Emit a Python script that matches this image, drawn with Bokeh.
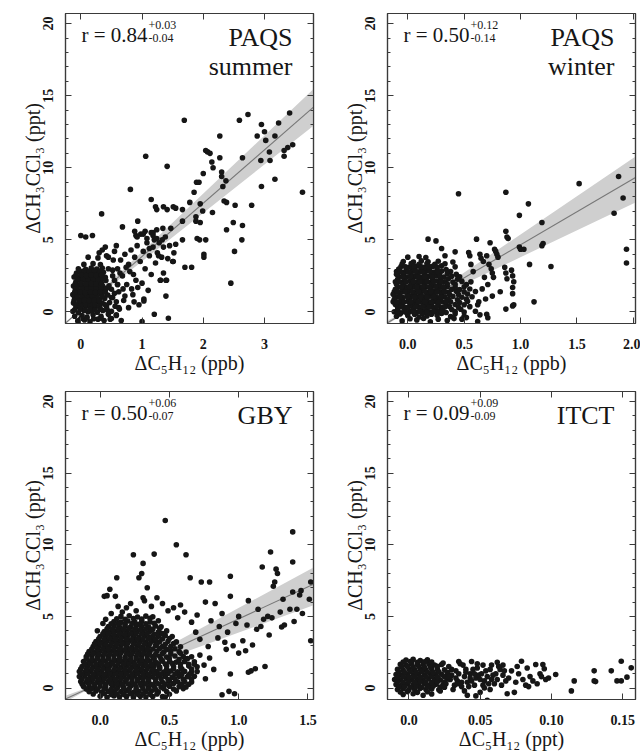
from bokeh.plotting import figure
from bokeh.models import Range1d, LinearAxis, FixedTicker, Label, CustomLabelingPolicy
from bokeh.layouts import gridplot
from bokeh.embed import file_html
from bokeh.resources import INLINE

FONT = "'Liberation Serif', 'DejaVu Serif', serif"

# ---------------- data ----------------
y_ticks = [0, 5, 10, 15, 20]
y_minor = list(range(0, 21))
y_label = "ΔCH₃CCl₃ (ppt)"

# Panel 1: PAQS summer
summer_x = [
    -0.05, 0.06, 0.15, 0.28, 0.38, 0.50,
    -0.10, 0.02, 0.10, 0.20, 0.33, 0.45, 0.58,
    -0.13, -0.04, 0.05, 0.12, 0.18, 0.27, 0.36, 0.50,
    -0.08, 0.00, 0.08, 0.16, 0.23, 0.31, 0.42, 0.62,
    -0.12, -0.03, 0.04, 0.11, 0.19, 0.26, 0.35, 0.47, 0.58,
    -0.10, -0.01, 0.07, 0.14, 0.22, 0.30, 0.39, 0.52,
    -0.13, -0.05, 0.03, 0.10, 0.17, 0.25, 0.33, 0.44, 0.55,
    -0.09, 0.00, 0.08, 0.15, 0.21, 0.29, 0.38, 0.50,
    -0.12, -0.04, 0.05, 0.12, 0.20, 0.27, 0.36, 0.46, 0.60,
    -0.08, 0.01, 0.09, 0.16, 0.24, 0.32, 0.41,
    -0.11, -0.02, 0.06, 0.13, 0.21, 0.30, 0.40, 0.52,
    -0.07, 0.03, 0.11, 0.19, 0.28, 0.37,
    -0.04, 0.08, 0.17, 0.26, 0.35, 0.45,
    0.05, 0.20, 0.32, 0.12, 0.28, 0.30, 0.55,
    -0.08, 0.00, 0.08, 0.15, 0.23, 0.31, 0.40,
    -0.06, 0.02, 0.10, 0.18, 0.26, 0.35,
    -0.07, 0.02, 0.10, 0.17, 0.25, 0.33, 0.42,
    -0.05, 0.04, 0.12, 0.20, 0.28, 0.36,
    -0.10, -0.01, 0.07, 0.15, 0.23, 0.32, 0.43,
    -0.02, 0.06, 0.14, 0.22, 0.31,
    0.00, 0.10, 0.21, 0.33,
    -0.11, -0.02, 0.06, 0.14, 0.22, 0.30,
    -0.10, -0.01, 0.07, 0.16, 0.24, 0.32, 0.40,
    -0.09, 0.00, 0.08, 0.17, 0.25, 0.34,
    -0.08, 0.01, 0.09, 0.17, 0.25, 0.34,
    0.55, 0.60, 0.62, 0.65, 0.68, 0.70, 0.72, 0.75, 0.78, 0.80,
    0.82, 0.85, 0.88, 0.90, 0.92, 0.95, 0.97, 1.00, 1.02, 1.05,
    1.08, 1.10, 1.12, 1.15, 1.18, 1.20, 1.22, 1.25, 1.28, 1.30,
    1.32, 1.35, 1.40, 1.42, 1.45, 1.50, 1.52, 1.55, 0.50, 0.53,
    0.58, 0.63, 0.45, 0.48, 0.66, 0.35, 0.40, 0.42, 0.58, 0.98,
    1.05, 0.90, 1.15,
    0.72, 0.78, 0.86, 0.93, 1.03, 1.12, 1.27, 1.38, 0.56, 0.64,
    0.74, 0.83, 0.52, 0.60, 0.69, 0.87, 1.18, 1.24, 1.33, 1.47,
    1.69, 2.59, 2.73, 3.41, 3.23, 2.95, 2.27, 2.88, 3.17, 3.00,
    3.02, 3.46, 3.38, 3.32, 3.32, 1.06, 1.41, 2.04, 2.07, 2.11,
    2.14, 2.16, 2.27, 2.64, 2.00, 2.30, 2.30, 2.37, 3.08, 3.09,
    2.94, 2.95, 3.17, 3.62, 1.89, 1.93, 2.32, 0.81, 1.85, 1.78,
    1.95, 2.34, 2.38, 2.52, 2.79, 1.15, 1.22, 1.24, 1.35, 1.41,
    1.51, 1.55, 1.66, 1.99, 2.15, 1.88, 1.88, 1.95, 1.66, 2.49,
    2.64, 2.38, 0.34, 0.68, 0.93, 0.88, 0.92, 1.08, 1.02, 1.18,
    1.24, 1.34, 1.66, 1.90, 1.94, 2.04, 2.63, 2.51, 2.01, 2.01,
    1.70, 1.81, 2.45, 0.00, 0.08, 0.19, 1.51, 1.35, 1.39, 1.30,
    1.39, 1.03, 1.20, 1.43, 1.00,
]
summer_y = [
    -0.62, -0.55, -0.68, -0.50, -0.60, -0.45,
    -0.30, -0.25, -0.35, -0.20, -0.30, -0.15, -0.25,
    0.05, -0.05, 0.10, 0.00, 0.08, -0.02, 0.10, 0.05,
    0.35, 0.30, 0.40, 0.28, 0.36, 0.30, 0.38, 0.30,
    0.62, 0.68, 0.58, 0.66, 0.60, 0.70, 0.62, 0.65, 0.70,
    0.95, 0.88, 0.98, 0.90, 0.96, 0.88, 0.94, 1.00,
    1.20, 1.26, 1.18, 1.25, 1.20, 1.28, 1.22, 1.18, 1.30,
    1.52, 1.48, 1.55, 1.50, 1.45, 1.55, 1.50, 1.58,
    1.80, 1.85, 1.78, 1.84, 1.80, 1.86, 1.78, 1.82, 1.90,
    2.10, 2.15, 2.08, 2.14, 2.10, 2.12, 2.18,
    2.42, 2.38, 2.45, 2.40, 2.36, 2.44, 2.40, 2.50,
    2.70, 2.74, 2.68, 2.72, 2.66, 2.75,
    3.00, 2.96, 3.04, 2.98, 3.05, 3.00,
    3.30, 3.35, 3.28, 3.80, 3.75, 4.10, 4.20,
    0.50, 0.47, 0.52, 0.48, 0.51, 0.46, 0.50,
    1.05, 1.08, 1.03, 1.07, 1.04, 1.09,
    1.65, 1.68, 1.63, 1.67, 1.62, 1.66, 1.64,
    2.25, 2.28, 2.23, 2.27, 2.24, 2.29,
    0.15, 0.18, 0.13, 0.17, 0.14, 0.19, 0.16,
    2.85, 2.88, 2.83, 2.87, 2.84,
    -0.45, -0.42, -0.47, -0.44,
    0.80, 0.78, 0.82, 0.79, 0.81, 0.77,
    1.36, 1.38, 1.34, 1.37, 1.35, 1.39, 1.36,
    1.95, 1.98, 1.93, 1.97, 1.94, 1.96,
    2.55, 2.58, 2.53, 2.57, 2.54, 2.56,
    2.2, 3.0, 1.4, 3.6, 2.5, 0.8, 4.0, 1.9, 3.3, 2.8,
    4.3, 1.2, 3.8, 2.2, 4.6, 0.5, 3.5, 2.0, 4.2, 3.0,
    4.8, 1.5, 3.9, 2.6, 4.5, 5.0, 3.4, 4.1, 4.8, 2.2,
    3.8, 4.5, 2.2, 3.7, 4.6, 3.5, 4.1, 4.7, 1.0, 3.6,
    -0.2, 0.2, 3.8, -0.5, -0.6, 4.3, 4.5, 3.9, 4.6, 5.4,
    5.6, 5.3, 5.5,
    1.1, 0.3, 2.6, 1.7, 0.9, 4.4, 3.9, 5.2, 0.4, 2.7,
    3.1, 1.6, 2.9, 1.9, 1.6, 0.7, 5.3, 5.1, 5.0, 5.8,
    13.3, 13.3, 13.7, 13.8, 13.1, 13.0, 12.2, 12.2, 12.2, 12.5,
    11.9, 11.6, 11.4, 11.2, 10.8, 10.8, 10.1, 11.2, 11.1, 11.0,
    10.4, 10.0, 10.7, 10.7, 9.6, 9.7, 9.4, 9.1, 11.1, 10.5,
    10.5, 8.7, 9.2, 8.3, 9.0, 9.0, 8.7, 8.5, 8.3, 7.6,
    7.5, 7.7, 7.6, 7.4, 7.4, 7.8, 7.3, 7.1, 7.3, 7.1,
    7.3, 7.2, 7.1, 7.0, 6.9, 6.6, 6.3, 6.2, 6.3, 6.2,
    6.0, 5.7, 6.8, 5.9, 6.3, 5.6, 5.2, 5.1, 5.4, 5.5,
    5.7, 5.8, 5.0, 5.1, 5.0, 5.0, 5.0, 4.2, 3.8, 4.0,
    3.1, 3.1, 2.0, 5.3, 5.2, 5.3, 3.5, 2.7, 2.2, 2.2,
    1.1, 0.76, -0.16, -0.44, -0.67,
]

# Panel 2: PAQS winter
winter_x = [
    -0.05, 0.08, 0.20, 0.35, 0.48, 0.62,
    -0.10, 0.00, 0.10, 0.17, 0.26, 0.38, 0.50,
    -0.12, -0.06, 0.02, 0.08, 0.14, 0.20, 0.27, 0.34, 0.42, 0.50, 0.60,
    -0.09, -0.03, 0.04, 0.10, 0.16, 0.22, 0.30, 0.37, 0.45, 0.55,
    -0.13, -0.07, 0.00, 0.06, 0.12, 0.18, 0.24, 0.31, 0.38, 0.46, 0.53, 0.63,
    -0.10, -0.04, 0.03, 0.09, 0.14, 0.20, 0.26, 0.33, 0.40, 0.48, 0.57,
    -0.12, -0.06, 0.01, 0.07, 0.12, 0.18, 0.23, 0.29, 0.36, 0.43, 0.50, 0.60,
    -0.09, -0.02, 0.05, 0.11, 0.16, 0.22, 0.28, 0.35, 0.42, 0.50,
    -0.11, -0.05, 0.02, 0.08, 0.14, 0.20, 0.26, 0.33, 0.40, 0.48, 0.56,
    -0.08, -0.01, 0.06, 0.12, 0.18, 0.25, 0.32, 0.39, 0.46,
    -0.10, -0.03, 0.04, 0.10, 0.16, 0.23, 0.30, 0.38,
    -0.06, 0.02, 0.09, 0.15, 0.22, 0.30, 0.42,
    -0.04, 0.05, 0.12, 0.18, 0.27, 0.40,
    0.00, 0.10, 0.16, 0.33,
    -0.09, -0.03, 0.05, 0.11, 0.17, 0.24, 0.31, 0.39, 0.47,
    -0.11, -0.05, 0.02, 0.08, 0.15, 0.21, 0.27, 0.34, 0.42, 0.50,
    -0.12, -0.06, 0.01, 0.07, 0.12, 0.17, 0.23, 0.29, 0.36, 0.44, 0.52,
    -0.13, -0.07, 0.00, 0.06, 0.11, 0.17, 0.23, 0.30, 0.37, 0.45, 0.53,
    -0.11, -0.05, 0.02, 0.08, 0.14, 0.20, 0.26, 0.32, 0.39, 0.46, 0.55,
    -0.10, -0.04, 0.03, 0.09, 0.15, 0.21, 0.28, 0.35, 0.42, 0.52,
    -0.09, -0.03, 0.04, 0.10, 0.16, 0.22, 0.29, 0.36, 0.44,
    -0.10, -0.04, 0.03, 0.09, 0.15, 0.21, 0.28, 0.35, 0.43,
    -0.08, -0.01, 0.06, 0.12, 0.19, 0.26, 0.34,
    -0.05, 0.03, 0.10, 0.17, 0.24, 0.33,
    -0.07, 0.00, 0.06, 0.13, 0.21, 0.30, 0.42,
    0.02, 0.14, 0.27, 0.41,
    -0.09, -0.02, 0.05, 0.11, 0.17, 0.23, 0.30,
    -0.06, 0.00, 0.07, 0.13, 0.19, 0.26, 0.33,
    -0.10, -0.035, 0.03, 0.09, 0.15, 0.21, 0.27, 0.34,
    -0.07, 0.00, 0.06, 0.115, 0.17, 0.23, 0.295,
    -0.09, -0.025, 0.04, 0.095, 0.15, 0.205, 0.26, 0.325,
    -0.055, 0.015, 0.08, 0.135, 0.19, 0.25, 0.315,
    -0.08, -0.015, 0.05, 0.11, 0.17, 0.23, 0.295,
    -0.045, 0.025, 0.09, 0.15, 0.215, 0.285,
    -0.065, 0.005, 0.07, 0.13, 0.195, 0.265,
    -0.02, 0.055, 0.12, 0.185, 0.26,
    0.45, 0.87, 1.07, 0.99, 1.19, 0.87, 0.88, 0.89, 0.99, 1.00,
    1.03, 1.19, 1.20, 1.08, 1.27, 1.12, 1.52, 1.87, 1.91, 1.83,
    1.94, 1.94, 0.87, 0.93, 0.94, 0.18, 0.25, 0.30, 0.42, 0.61,
    0.73, 0.54, 0.55, 0.64, 0.65, 0.67, 0.77, 0.78, 0.79, 0.80,
    0.72, 0.74, 0.75, 0.76, 0.86, 0.87, 0.88, 0.92, 0.93, 0.94,
    0.93, 0.93, 0.70, 0.71, 0.52, 0.66, 0.69, 0.58, 0.71, 0.82,
    0.64, 0.68, 0.56, 0.75, 0.62, 0.70,
]
winter_y = [
    -0.62, -0.55, -0.68, -0.60, -0.50, -0.66,
    -0.30, -0.25, -0.35, -0.28, -0.22, -0.32, -0.30,
    0.02, -0.05, 0.05, -0.02, 0.06, 0.00, 0.04, -0.04, 0.03, 0.00, 0.05,
    0.36, 0.30, 0.38, 0.32, 0.40, 0.34, 0.30, 0.38, 0.33, 0.37,
    0.70, 0.66, 0.74, 0.68, 0.72, 0.65, 0.73, 0.69, 0.70, 0.66, 0.74, 0.70,
    1.05, 1.00, 1.08, 1.02, 1.06, 1.10, 1.00, 1.05, 1.08, 1.02, 1.06,
    1.40, 1.36, 1.44, 1.38, 1.42, 1.35, 1.45, 1.40, 1.37, 1.43, 1.39, 1.42,
    1.75, 1.72, 1.78, 1.70, 1.76, 1.80, 1.73, 1.77, 1.72, 1.75,
    2.10, 2.06, 2.14, 2.08, 2.12, 2.05, 2.15, 2.10, 2.07, 2.12, 2.09,
    2.45, 2.42, 2.48, 2.40, 2.46, 2.50, 2.43, 2.47, 2.44,
    2.80, 2.76, 2.84, 2.78, 2.82, 2.75, 2.83, 2.80,
    3.15, 3.12, 3.18, 3.10, 3.16, 3.20, 3.13,
    3.50, 3.46, 3.54, 3.48, 3.52, 3.47,
    3.80, 3.85, 3.78, 3.90,
    0.16, 0.20, 0.15, 0.22, 0.18, 0.14, 0.21, 0.17, 0.19,
    0.52, 0.55, 0.50, 0.56, 0.51, 0.54, 0.49, 0.55, 0.52, 0.50,
    0.88, 0.85, 0.90, 0.86, 0.91, 0.87, 0.84, 0.90, 0.88, 0.85, 0.89,
    1.22, 1.25, 1.20, 1.26, 1.21, 1.24, 1.19, 1.25, 1.22, 1.20, 1.24,
    1.57, 1.60, 1.55, 1.61, 1.56, 1.59, 1.54, 1.60, 1.57, 1.55, 1.59,
    1.92, 1.95, 1.90, 1.96, 1.91, 1.94, 1.89, 1.95, 1.92, 1.90,
    2.27, 2.30, 2.25, 2.31, 2.26, 2.29, 2.24, 2.30, 2.27,
    2.62, 2.65, 2.60, 2.66, 2.61, 2.64, 2.59, 2.65, 2.62,
    2.97, 3.00, 2.95, 3.01, 2.96, 2.99, 2.94,
    3.32, 3.35, 3.30, 3.36, 3.31, 3.34,
    -0.14, -0.10, -0.16, -0.12, -0.15, -0.11, -0.13,
    -0.47, -0.45, -0.50, -0.46,
    0.03, -0.01, 0.02, 0.05, -0.02, 0.04, 0.01,
    0.37, 0.33, 0.36, 0.39, 0.34, 0.38, 0.35,
    0.71, 0.68, 0.72, 0.69, 0.73, 0.70, 0.67, 0.72,
    1.04, 1.07, 1.03, 1.06, 1.02, 1.08, 1.05,
    1.41, 1.38, 1.42, 1.39, 1.43, 1.40, 1.37, 1.41,
    1.74, 1.77, 1.73, 1.76, 1.72, 1.78, 1.75,
    2.11, 2.08, 2.12, 2.09, 2.13, 2.10, 2.07,
    2.44, 2.47, 2.43, 2.46, 2.42, 2.48,
    2.81, 2.78, 2.82, 2.79, 2.83, 2.80,
    3.14, 3.17, 3.13, 3.16, 3.12,
    8.2, 8.3, 7.5, 6.7, 6.2, 5.6, 5.2, 5.1, 4.5, 4.35,
    4.35, 4.6, 4.75, 3.3, 3.15, 0.7, 8.9, 9.4, 7.9, 6.85,
    4.35, 3.4, 0.2, 1.7, 0.5, 5.05, 4.93, 4.4, 4.17, 5.05,
    4.8, 4.12, 3.9, 4.0, 3.73, 3.5, 4.35, 4.2, 4.0, 3.8,
    3.3, 3.0, 2.7, 2.4, 3.1, 2.7, 2.3, 2.9, 2.5, 2.1,
    1.27, 0.42, -0.16, -0.40, -0.39, 1.6, 0.9, 2.8, 1.9, 1.4,
    -0.2, 2.4, 3.3, 1.1, 0.5, 3.9,
]

# Panel 3: GBY
gby_x = [
    0.00, 0.05, 0.10, 0.14, 0.19, 0.24, 0.29, 0.33, 0.38, 0.45,
    -0.08, -0.03, 0.01, 0.06, 0.10, 0.15, 0.19, 0.24, 0.28, 0.33, 0.37, 0.42, 0.48, 0.55,
    -0.12, -0.08, -0.04, 0.00, 0.04, 0.09, 0.13, 0.17, 0.22, 0.26, 0.30, 0.35, 0.39, 0.44, 0.50, 0.57, 0.62,
    -0.14, -0.10, -0.06, -0.02, 0.02, 0.06, 0.10, 0.14, 0.18, 0.23, 0.27, 0.31, 0.35, 0.40, 0.45, 0.50, 0.56, 0.61, 0.66,
    -0.15, -0.11, -0.07, -0.03, 0.01, 0.05, 0.09, 0.13, 0.17, 0.21, 0.25, 0.29, 0.33, 0.38, 0.42, 0.47, 0.52, 0.57, 0.63, 0.68,
    -0.15, -0.11, -0.07, -0.03, 0.01, 0.05, 0.09, 0.13, 0.17, 0.21, 0.25, 0.29, 0.33, 0.37, 0.41, 0.46, 0.51, 0.56, 0.61, 0.66, 0.70,
    -0.13, -0.09, -0.05, -0.01, 0.03, 0.07, 0.11, 0.15, 0.19, 0.23, 0.27, 0.31, 0.35, 0.39, 0.43, 0.48, 0.53, 0.58, 0.64, 0.70,
    -0.12, -0.08, -0.04, 0.00, 0.04, 0.08, 0.12, 0.16, 0.20, 0.24, 0.28, 0.32, 0.36, 0.40, 0.45, 0.50, 0.55, 0.61, 0.68,
    -0.10, -0.06, -0.02, 0.02, 0.06, 0.10, 0.14, 0.18, 0.22, 0.26, 0.30, 0.34, 0.38, 0.43, 0.48, 0.54, 0.60, 0.66,
    -0.08, -0.04, 0.00, 0.04, 0.08, 0.12, 0.16, 0.20, 0.24, 0.28, 0.32, 0.36, 0.41, 0.46, 0.51, 0.57, 0.62,
    -0.05, -0.01, 0.03, 0.07, 0.11, 0.15, 0.19, 0.23, 0.27, 0.31, 0.35, 0.40, 0.45, 0.51, 0.58,
    -0.03, 0.01, 0.05, 0.09, 0.13, 0.17, 0.21, 0.25, 0.29, 0.33, 0.38, 0.43, 0.49, 0.55,
    0.00, 0.04, 0.08, 0.12, 0.16, 0.20, 0.24, 0.28, 0.32, 0.37, 0.42, 0.47, 0.52,
    0.03, 0.07, 0.11, 0.15, 0.19, 0.23, 0.27, 0.31, 0.36, 0.42, 0.48,
    0.06, 0.10, 0.14, 0.18, 0.22, 0.26, 0.30, 0.35, 0.40, 0.44,
    0.10, 0.15, 0.20, 0.25, 0.30, 0.36, 0.42,
    0.15, 0.21, 0.27, 0.33, 0.38,
    -0.05, 0.03, 0.08, 0.12, 0.17, 0.22, 0.27, 0.31, 0.36, 0.41, 0.50,
    -0.10, -0.06, -0.02, 0.03, 0.08, 0.12, 0.17, 0.21, 0.26, 0.31, 0.35, 0.40, 0.46, 0.53, 0.60,
    -0.13, -0.08, -0.04, 0.00, 0.04, 0.08, 0.12, 0.16, 0.20, 0.25, 0.29, 0.33, 0.37, 0.42, 0.47, 0.53, 0.59, 0.64,
    -0.13, -0.09, -0.05, -0.01, 0.03, 0.07, 0.11, 0.15, 0.19, 0.23, 0.27, 0.31, 0.35, 0.40, 0.44, 0.49, 0.54, 0.60, 0.66,
    -0.13, -0.09, -0.05, -0.01, 0.03, 0.07, 0.11, 0.15, 0.19, 0.23, 0.27, 0.31, 0.35, 0.39, 0.44, 0.49, 0.54, 0.59, 0.65,
    -0.14, -0.10, -0.06, -0.02, 0.02, 0.06, 0.10, 0.14, 0.18, 0.22, 0.26, 0.30, 0.34, 0.38, 0.43, 0.48, 0.53, 0.59, 0.66,
    -0.11, -0.07, -0.03, 0.01, 0.05, 0.09, 0.13, 0.17, 0.21, 0.25, 0.29, 0.33, 0.37, 0.42, 0.47, 0.52, 0.58, 0.64,
    -0.10, -0.06, -0.02, 0.02, 0.06, 0.10, 0.14, 0.18, 0.22, 0.26, 0.30, 0.34, 0.39, 0.44, 0.50, 0.57, 0.63,
    -0.09, -0.05, -0.01, 0.03, 0.07, 0.11, 0.15, 0.19, 0.23, 0.27, 0.31, 0.35, 0.40, 0.45, 0.51, 0.58,
    -0.06, -0.02, 0.02, 0.06, 0.10, 0.14, 0.18, 0.22, 0.26, 0.30, 0.34, 0.38, 0.43, 0.48, 0.54,
    -0.04, 0.00, 0.04, 0.08, 0.12, 0.16, 0.20, 0.24, 0.28, 0.32, 0.36, 0.41, 0.47, 0.53,
    -0.01, 0.03, 0.07, 0.11, 0.15, 0.19, 0.23, 0.27, 0.31, 0.35, 0.40, 0.45, 0.50,
    0.02, 0.06, 0.10, 0.14, 0.18, 0.22, 0.26, 0.30, 0.34, 0.39, 0.45,
    0.05, 0.09, 0.13, 0.17, 0.21, 0.25, 0.29, 0.33, 0.38, 0.43,
    0.08, 0.13, 0.18, 0.23, 0.28, 0.33, 0.39,
    0.12, 0.18, 0.24, 0.30, 0.36,
    0.47, 1.39, 0.55, 1.23, 0.62, 0.24, 0.39, 0.31, 1.17, 0.30,
    0.28, 0.12, 0.07, 0.03, 0.05, 0.11, 0.34, 0.31, 0.32, 0.65,
    0.73, 0.79, 0.94, 1.27, 1.28, 1.26, 1.25, 1.39, 1.32, 1.44,
    1.42, 1.46, 1.51, 1.52, 1.52, 1.40, 1.31, 1.22, 1.12, 1.09,
    1.07, 0.96, 1.00, 0.94, 0.88, 0.93, 0.76, 0.64, 0.47, 0.68,
    0.79, 0.82, 0.76, 0.83, 0.94, 1.07, 1.14, 1.18, 0.88, 1.00,
    1.06, 1.13, 1.21, 1.30, 1.37, 0.70, 0.80, 0.86, 0.92, 0.98,
    1.03, 1.10, 1.16, 1.24, 1.33, 1.45, 0.72, 0.78, 0.85, 0.91,
    0.58, 0.61, 0.56, 0.66, 0.69, 0.53, 0.49, 0.45, 0.41, 0.37,
    0.19, 0.22, 0.26, 0.16, 0.13, 0.08, 0.04, 0.02, -0.02, 0.72,
    0.75, 1.05, 1.19, 0.90, 0.97, 1.39,
]
gby_y = [
    -0.58, -0.64, -0.55, -0.62, -0.60, -0.66, -0.57, -0.63, -0.59, -0.60,
    -0.25, -0.20, -0.28, -0.22, -0.27, -0.24, -0.20, -0.29, -0.23, -0.26, -0.21, -0.27, -0.24, -0.20,
    0.10, 0.14, 0.06, 0.12, 0.08, 0.15, 0.10, 0.05, 0.12, 0.08, 0.14, 0.09, 0.11, 0.06, 0.13, 0.10, 0.08,
    0.45, 0.40, 0.48, 0.42, 0.47, 0.43, 0.50, 0.41, 0.46, 0.44, 0.49, 0.42, 0.47, 0.45, 0.40, 0.48, 0.44, 0.46, 0.42,
    0.80, 0.84, 0.76, 0.82, 0.78, 0.85, 0.80, 0.77, 0.83, 0.79, 0.84, 0.76, 0.81, 0.78, 0.85, 0.80, 0.76, 0.83, 0.79, 0.82,
    1.15, 1.10, 1.18, 1.12, 1.16, 1.20, 1.11, 1.17, 1.13, 1.19, 1.10, 1.15, 1.18, 1.12, 1.16, 1.11, 1.19, 1.14, 1.17, 1.12, 1.15,
    1.50, 1.54, 1.46, 1.52, 1.48, 1.55, 1.50, 1.45, 1.53, 1.47, 1.51, 1.56, 1.49, 1.52, 1.46, 1.54, 1.50, 1.47, 1.53, 1.49,
    1.85, 1.80, 1.88, 1.83, 1.87, 1.81, 1.90, 1.84, 1.86, 1.80, 1.89, 1.83, 1.87, 1.82, 1.88, 1.85, 1.81, 1.86, 1.84,
    2.20, 2.24, 2.16, 2.22, 2.18, 2.25, 2.20, 2.15, 2.23, 2.17, 2.21, 2.26, 2.19, 2.22, 2.16, 2.24, 2.20, 2.18,
    2.55, 2.50, 2.58, 2.53, 2.57, 2.51, 2.60, 2.54, 2.56, 2.50, 2.59, 2.53, 2.57, 2.52, 2.58, 2.55, 2.51,
    2.90, 2.94, 2.86, 2.92, 2.88, 2.95, 2.90, 2.85, 2.93, 2.87, 2.91, 2.96, 2.89, 2.92, 2.88,
    3.25, 3.20, 3.28, 3.23, 3.27, 3.21, 3.30, 3.24, 3.26, 3.20, 3.29, 3.23, 3.27, 3.22,
    3.60, 3.64, 3.56, 3.62, 3.58, 3.65, 3.60, 3.55, 3.63, 3.57, 3.61, 3.66, 3.59,
    3.95, 3.90, 3.98, 3.93, 3.97, 3.91, 4.00, 3.94, 3.96, 3.90, 3.99,
    4.30, 4.34, 4.26, 4.32, 4.28, 4.35, 4.30, 4.25, 4.33, 4.27,
    4.65, 4.60, 4.68, 4.63, 4.67, 4.61, 4.70,
    5.00, 5.05, 4.96, 5.02, 4.98,
    -0.42, -0.40, -0.45, -0.41, -0.44, -0.39, -0.43, -0.40, -0.44, -0.41, -0.43,
    -0.07, -0.04, -0.09, -0.05, -0.08, -0.03, -0.07, -0.05, -0.09, -0.04, -0.06, -0.08, -0.05, -0.07, -0.04,
    0.28, 0.31, 0.26, 0.30, 0.25, 0.29, 0.32, 0.27, 0.30, 0.26, 0.31, 0.28, 0.25, 0.30, 0.27, 0.32, 0.28, 0.26,
    0.63, 0.60, 0.65, 0.61, 0.66, 0.62, 0.59, 0.64, 0.61, 0.65, 0.60, 0.63, 0.66, 0.61, 0.64, 0.60, 0.65, 0.62, 0.63,
    0.98, 1.01, 0.96, 1.00, 0.95, 0.99, 1.02, 0.97, 1.00, 0.96, 1.01, 0.98, 0.95, 1.00, 0.97, 1.02, 0.98, 0.96, 0.99,
    1.33, 1.30, 1.35, 1.31, 1.36, 1.32, 1.29, 1.34, 1.31, 1.35, 1.30, 1.33, 1.36, 1.31, 1.34, 1.30, 1.35, 1.32, 1.33,
    1.68, 1.71, 1.66, 1.70, 1.65, 1.69, 1.72, 1.67, 1.70, 1.66, 1.71, 1.68, 1.65, 1.70, 1.67, 1.72, 1.68, 1.66,
    2.03, 2.00, 2.05, 2.01, 2.06, 2.02, 1.99, 2.04, 2.01, 2.05, 2.00, 2.03, 2.06, 2.01, 2.04, 2.00, 2.05,
    2.38, 2.41, 2.36, 2.40, 2.35, 2.39, 2.42, 2.37, 2.40, 2.36, 2.41, 2.38, 2.35, 2.40, 2.37, 2.42,
    2.73, 2.70, 2.75, 2.71, 2.76, 2.72, 2.69, 2.74, 2.71, 2.75, 2.70, 2.73, 2.76, 2.71, 2.74,
    3.08, 3.11, 3.06, 3.10, 3.05, 3.09, 3.12, 3.07, 3.10, 3.06, 3.11, 3.08, 3.05, 3.10,
    3.43, 3.40, 3.45, 3.41, 3.46, 3.42, 3.39, 3.44, 3.41, 3.45, 3.40, 3.43, 3.46,
    3.78, 3.81, 3.76, 3.80, 3.75, 3.79, 3.82, 3.77, 3.80, 3.76, 3.81,
    4.13, 4.10, 4.15, 4.11, 4.16, 4.12, 4.09, 4.14, 4.11, 4.15,
    4.48, 4.51, 4.46, 4.50, 4.45, 4.49, 4.52,
    4.83, 4.80, 4.85, 4.81, 4.86,
    11.7, 10.9, 10.0, 9.5, 9.3, 9.3, 9.35, 8.7, 8.45, 8.0,
    7.7, 7.7, 6.9, 6.4, 6.45, 6.4, 7.0, 6.3, 6.1, 7.7,
    7.4, 7.4, 7.8, 8.3, 8.0, 7.4, 7.1, 6.7, 6.2, 6.5,
    5.5, 5.2, 6.2, 7.4, 3.3, 4.65, 4.26, 3.7, 1.35, 1.2,
    1.1, 2.95, 2.44, 0.98, -0.47, -0.23, 0.65, 0.93, -0.63, 1.67,
    2.1, 1.3, 6.0, 5.9, 6.4, 6.1, 5.5, 4.8, 5.2, 5.0,
    4.4, 4.1, 5.0, 5.3, 5.5, 5.1, 4.7, 4.3, 3.9, 4.5,
    3.3, 3.0, 4.3, 4.9, 4.4, 6.8, 3.4, 2.9, 3.5, 2.7,
    5.8, 5.3, 4.9, 4.6, 3.9, 5.6, 5.4, 5.9, 6.3, 5.7,
    5.6, 5.9, 5.4, 5.3, 5.7, 5.2, 4.8, 4.5, 4.0, 2.3,
    1.6, 2.6, 1.5, 3.2, -0.4, 8.8,
]

# Panel 4: ITCT
itct_x = [
    -0.004, 0.003, 0.010, 0.016,
    -0.008, -0.004, 0.000, 0.004, 0.008, 0.012, 0.016, 0.021,
    -0.009, -0.005, -0.001, 0.003, 0.007, 0.011, 0.015, 0.019, 0.024,
    -0.010, -0.006, -0.002, 0.002, 0.006, 0.010, 0.014, 0.018, 0.022, 0.027,
    -0.009, -0.005, -0.001, 0.003, 0.007, 0.011, 0.015, 0.019, 0.023, 0.028,
    -0.008, -0.004, 0.000, 0.004, 0.008, 0.012, 0.016, 0.020, 0.025,
    -0.006, -0.002, 0.002, 0.006, 0.010, 0.014, 0.018, 0.023,
    -0.002, 0.003, 0.008, 0.013,
    -0.007, -0.003, 0.001, 0.005, 0.009, 0.013, 0.017, 0.022,
    -0.008, -0.004, 0.000, 0.004, 0.008, 0.012, 0.016, 0.020, 0.025,
    -0.008, -0.004, 0.000, 0.004, 0.008, 0.012, 0.016, 0.020, 0.025,
    -0.007, -0.003, 0.001, 0.005, 0.009, 0.013, 0.017, 0.021,
    -0.005, -0.001, 0.003, 0.007, 0.011, 0.015, 0.020,
    -0.004, 0.001, 0.006, 0.011, 0.016,
    -0.006, -0.001, 0.006, 0.013,
    0.026, 0.028, 0.030, 0.031, 0.033, 0.034, 0.036, 0.037, 0.039, 0.040,
    0.041, 0.043, 0.044, 0.046, 0.047, 0.048, 0.050, 0.051, 0.053, 0.054,
    0.055, 0.057, 0.058, 0.060, 0.061, 0.062, 0.064, 0.065, 0.066, 0.068,
    0.029, 0.032, 0.035, 0.038, 0.042, 0.045, 0.049, 0.052, 0.056, 0.059,
    0.027, 0.033, 0.037, 0.043, 0.046, 0.052, 0.058, 0.063, 0.067, 0.070,
    0.047, 0.055, 0.069, 0.041, 0.024, 0.022, 0.025, 0.035, 0.039, 0.044,
    0.030, 0.048, 0.053, 0.062, 0.066, 0.057, 0.050, 0.034, 0.028, 0.040,
    0.072, 0.074, 0.075, 0.077, 0.079, 0.080, 0.082, 0.083, 0.085, 0.087,
    0.089, 0.090, 0.092, 0.093, 0.094, 0.095, 0.096, 0.098, 0.084, 0.076,
    0.103, 0.114, 0.116, 0.130, 0.130, 0.131, 0.142, 0.146, 0.149, 0.149, 0.153, 0.156,
]
itct_y = [
    -0.45, -0.40, -0.50, -0.42,
    -0.10, -0.05, -0.12, -0.08, -0.02, -0.10, -0.06, -0.12,
    0.25, 0.20, 0.28, 0.22, 0.26, 0.30, 0.21, 0.27, 0.24,
    0.60, 0.56, 0.64, 0.58, 0.62, 0.55, 0.65, 0.60, 0.57, 0.63,
    0.95, 0.90, 0.98, 0.93, 0.97, 0.91, 1.00, 0.94, 0.96, 0.92,
    1.30, 1.26, 1.34, 1.28, 1.32, 1.25, 1.35, 1.30, 1.27,
    1.65, 1.60, 1.68, 1.62, 1.66, 1.70, 1.61, 1.64,
    1.95, 2.00, 1.92, 1.97,
    0.08, 0.11, 0.06, 0.10, 0.05, 0.09, 0.12, 0.07,
    0.43, 0.40, 0.45, 0.41, 0.46, 0.42, 0.39, 0.44, 0.41,
    0.78, 0.81, 0.76, 0.80, 0.75, 0.79, 0.82, 0.77, 0.80,
    1.13, 1.10, 1.15, 1.11, 1.16, 1.12, 1.09, 1.14,
    1.48, 1.51, 1.46, 1.50, 1.45, 1.49, 1.52,
    1.82, 1.85, 1.80, 1.84, 1.81,
    -0.28, -0.25, -0.30, -0.26,
    0.3, 1.5, 0.9, -0.1, 1.2, 0.5, 1.7, 0.1, 0.8, 1.3,
    0.4, 1.0, 1.85, 0.2, 0.7, 1.4, -0.3, 1.0, 0.5, 1.2,
    0.8, -0.1, 1.6, 0.3, 1.0, 0.6, 1.3, 0.2, 0.9, 0.5,
    0.6, 0.2, 1.0, 1.6, 0.1, 1.3, 0.9, 1.6, 0.3, 0.9,
    1.1, 0.7, 0.4, 0.7, 1.0, 0.2, 0.6, 1.5, 1.2, 0.7,
    -0.55, -0.86, -0.4, -0.5, 1.75, -0.2, 0.05, 1.85, -0.2, 0.5,
    1.3, 1.7, 0.0, 1.8, 1.6, 1.3, 0.6, 0.3, 0.8, 1.1,
    1.2, -0.3, 0.4, 1.0, 1.87, 0.6, 0.2, 1.4, 0.8, 0.5,
    1.64, 0.3, 1.0, 0.8, 1.64, 1.35, 0.6, 0.7, 0.1, 1.5,
    0.95, -0.2, 0.5, 1.2, 0.5, 0.45, 1.2, 0.5, 0.5, 1.87, 0.76, 1.41,
]

# fitted line [slope, intercept] and band slopes [low, high]
summer_fit = [3.70, 0.15]
summer_band = [3.36, 4.03]
winter_fit = [4.58, 0.08]
winter_band = [3.72, 5.30]
gby_fit = [4.48, 0.35]
gby_band = [3.52, 5.24]

# x ticks and labels
summer_xticks = [0, 1, 2, 3]
summer_xlabels = ["0", "1", "2", "3"]
winter_xticks = [0.0, 0.5, 1.0, 1.5, 2.0]
winter_xlabels = ["0.0", "0.5", "1.0", "1.5", "2.0"]
gby_xticks = [0.0, 0.5, 1.0, 1.5]
gby_xlabels = ["0.0", "0.5", "1.0", "1.5"]
itct_xticks = [0.0, 0.05, 0.10, 0.15]
itct_xlabels = ["0.0", "0.05", "0.10", "0.15"]

r_values = [("0.84", "+0.03", "-0.04"), ("0.50", "+0.12", "-0.14"),
            ("0.50", "+0.06", "-0.07"), ("0.09", "+0.09", "-0.09")]
site_names = [["PAQS", "summer"], ["PAQS", "winter"], ["GBY"], ["ITCT"]]
x_labels = ["ΔC₅H₁₂ (ppb)", "ΔC₅H₁₂ (ppb)", "ΔC₅H₁₂ (ppb)", "ΔC₅H₁₂ (ppt)"]

X_RANGES = [(-0.25, 3.8), (-0.18, 2.02), (-0.25, 1.54), (-0.015, 0.159)]
Y_RANGE = (-0.8, 20.7)

INK = "#161616"
FRAME = "#3a3a3a"
HIDE = CustomLabelingPolicy(code="return new Set()")


def style_axis(ax, ticks, minor, labels=None, show=True, vertical=False):
    ax.ticker = FixedTicker(ticks=ticks, minor_ticks=minor)
    ax.axis_line_color = FRAME
    ax.axis_line_width = 1.2
    ax.major_tick_line_color = FRAME
    ax.minor_tick_line_color = FRAME
    ax.major_tick_in = 6
    ax.major_tick_out = 0
    ax.minor_tick_in = 3
    ax.minor_tick_out = 0
    if labels is not None:
        ax.major_label_overrides = {t: l for t, l in zip(ticks, labels)}
    if show:
        ax.major_label_text_font = FONT
        ax.major_label_text_font_size = "14px"
        ax.major_label_text_font_style = "bold"
        ax.major_label_text_color = INK
        ax.axis_label_text_font = FONT
        ax.axis_label_text_font_size = "20px"
        ax.axis_label_text_font_style = "normal"
        ax.axis_label_text_color = INK
        if vertical:
            ax.major_label_orientation = "vertical"
            ax.major_label_standoff = 12
            ax.axis_label_standoff = -3
        else:
            ax.major_label_standoff = 15
            ax.axis_label_standoff = 0
    else:
        ax.major_label_text_font_size = "0px"
        ax.major_label_standoff = 0
        ax.major_label_policy = HIDE
        ax.axis_label = None


def make_panel(i, xs, ys, xticks, xlabels, fit, band, width, height, bl, br, bt, bb):
    x0, x1 = X_RANGES[i]
    p = figure(width=width, height=height,
               x_range=Range1d(x0, x1), y_range=Range1d(*Y_RANGE),
               output_backend="svg", toolbar_location=None,
               min_border_left=bl, min_border_right=br,
               min_border_top=bt, min_border_bottom=bb)
    p.grid.visible = False
    p.outline_line_color = FRAME
    p.outline_line_width = 1.2
    p.background_fill_color = "white"
    p.border_fill_color = "white"

    style_axis(p.xaxis[0], xticks, [], xlabels)
    p.xaxis[0].axis_label = x_labels[i]
    style_axis(p.yaxis[0], y_ticks, y_minor, vertical=True)
    p.yaxis[0].axis_label = y_label

    top = LinearAxis()
    style_axis(top, xticks, [], show=False)
    p.add_layout(top, "above")
    right = LinearAxis()
    style_axis(right, y_ticks, y_minor, show=False)
    p.add_layout(right, "right")

    if fit is not None:
        slope, icpt = fit
        lo, hi = band
        bx = [x0, 0.0, x1]
        p.varea(x=bx, y1=[icpt + lo * v for v in bx], y2=[icpt + hi * v for v in bx],
                fill_color="#cfcfcf", fill_alpha=1.0)
        p.line(x=[x0, x1], y=[icpt + slope * x0, icpt + slope * x1],
               line_color="#777777", line_width=1.1)

    p.scatter(x=xs, y=ys, size=5.6, fill_color=INK, line_color=None)

    r_main, r_sup, r_sub = r_values[i]
    p.add_layout(Label(x=x0, y=Y_RANGE[1], x_offset=16, y_offset=-21,
                       text="r = " + r_main, text_font=FONT, text_font_size="21px",
                       text_color=INK, text_baseline="alphabetic", text_align="left"))
    p.add_layout(Label(x=x0, y=Y_RANGE[1], x_offset=83, y_offset=-11,
                       text=r_sup, text_font=FONT, text_font_size="12px",
                       text_color=INK, text_baseline="alphabetic", text_align="left"))
    p.add_layout(Label(x=x0, y=Y_RANGE[1], x_offset=83, y_offset=-24,
                       text=r_sub, text_font=FONT, text_font_size="12px",
                       text_color=INK, text_baseline="alphabetic", text_align="left"))
    for k, name in enumerate(site_names[i]):
        p.add_layout(Label(x=x1, y=Y_RANGE[1], x_offset=-21, y_offset=-24 - 29 * k,
                           text=name, text_font=FONT, text_font_size="26px",
                           text_color=INK, text_baseline="alphabetic", text_align="right"))
    return p


p1 = make_panel(0, summer_x, summer_y, summer_xticks, summer_xlabels, summer_fit, summer_band,
                320, 378, 65, 7, 13, 55)
p2 = make_panel(1, winter_x, winter_y, winter_xticks, winter_xlabels, winter_fit, winter_band,
                320, 378, 67, 5, 13, 55)
p3 = make_panel(2, gby_x, gby_y, gby_xticks, gby_xlabels, gby_fit, gby_band,
                320, 374, 65, 7, 13, 53)
p4 = make_panel(3, itct_x, itct_y, itct_xticks, itct_xlabels, None, None,
                320, 374, 67, 5, 13, 53)

grid = gridplot([[p1, p2], [p3, p4]], toolbar_location=None)

open("out.html", "w").write(file_html(grid, INLINE))
